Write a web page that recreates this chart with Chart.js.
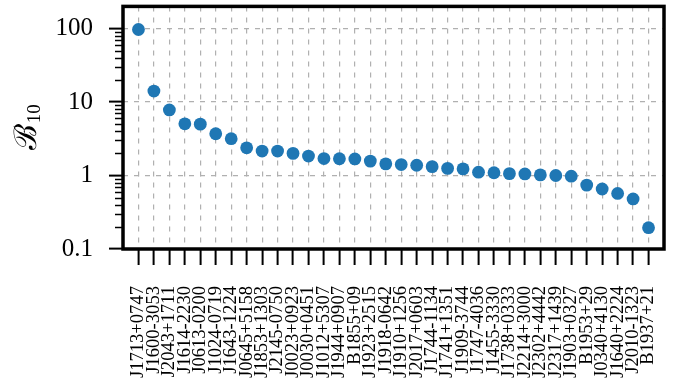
<!DOCTYPE html>
<html><head><meta charset="utf-8">
<script src="https://cdn.jsdelivr.net/npm/chart.js@4/dist/chart.umd.min.js"></script>
<style>html,body{margin:0;padding:0;background:#fff;}canvas{display:block;}</style>
</head><body>
<canvas id="c" width="685" height="383"></canvas>
<script>
const pulsars = ["J1713+0747","J1600-3053","J2043+1711","J1614-2230","J0613-0200","J1024-0719","J1643-1224","J0645+5158","J1853+1303","J2145-0750","J0023+0923","J0030+0451","J1012+5307","J1944+0907","B1855+09","J1923+2515","J1918-0642","J1910+1256","J2017+0603","J1744-1134","J1741+1351","J1909-3744","J1747-4036","J1455-3330","J1738+0333","J2214+3000","J2302+4442","J2317+1439","J1903+0327","B1953+29","J0340+4130","J1640+2224","J2010-1323","B1937+21"];
const bayesFactors = [97, 14.1, 7.8, 5.05, 5.0, 3.7, 3.17, 2.38, 2.15, 2.15, 2.0, 1.84, 1.7, 1.69, 1.68, 1.57, 1.44, 1.41, 1.38, 1.32, 1.25, 1.23, 1.11, 1.09, 1.06, 1.05, 1.02, 1.0, 0.98, 0.74, 0.655, 0.57, 0.48, 0.195];
const yMajorTicks = [0.1, 1, 10, 100];
const yMajorLabels = ["0.1", "1", "10", "100"];
const yMinorTicks = [0.2,0.3,0.4,0.5,0.6,0.7,0.8,0.9,2,3,4,5,6,7,8,9,20,30,40,50,60,70,80,90];
const yLabelMain = "\u212C";
const yLabelSub = "10";

const FONT = "'Liberation Serif', 'Times New Roman', serif";

const frame = {
  id: 'frame',
  afterDraw(chart) {
    const ctx = chart.ctx, a = chart.chartArea, ys = chart.scales.y;
    ctx.save();
    ctx.strokeStyle = '#000'; ctx.lineWidth = 1.5;
    yMinorTicks.forEach(v => {
      const p = Math.round(ys.getPixelForValue(v)) + 0.5;
      ctx.beginPath(); ctx.moveTo(a.left - 8, p); ctx.lineTo(a.left, p); ctx.stroke();
    });
    ctx.lineWidth = 3.5;
    ctx.strokeRect(a.left, a.top, a.right - a.left, a.bottom - a.top);
    ctx.translate(36, (a.top + a.bottom) / 2);
    ctx.rotate(-Math.PI / 2);
    ctx.fillStyle = '#000';
    ctx.textBaseline = 'alphabetic';
    ctx.font = "31px " + FONT;
    const w1 = ctx.measureText(yLabelMain).width;
    ctx.font = "19px " + FONT;
    const w2 = ctx.measureText(yLabelSub).width;
    const x0 = -(w1 + w2) / 2;
    ctx.font = "31px " + FONT;
    ctx.fillText(yLabelMain, x0, 0);
    ctx.font = "19px " + FONT;
    ctx.fillText(yLabelSub, x0 + w1 + 1, 4);
    ctx.restore();
  }
};

new Chart(document.getElementById('c'), {
  type: 'scatter',
  data: {
    datasets: [{
      data: pulsars.map((p, i) => ({x: i, y: bayesFactors[i]})),
      backgroundColor: '#1f77b4',
      borderWidth: 0,
      pointRadius: 6.4,
      pointHoverRadius: 6.4
    }]
  },
  options: {
    responsive: false,
    animation: false,
    devicePixelRatio: 1,
    layout: {padding: {left: 0, right: 21, top: 3, bottom: 0}},
    plugins: {legend: {display: false}, tooltip: {enabled: false}},
    scales: {
      x: {
        type: 'linear', min: -1, max: 34,
        afterBuildTicks: s => { s.ticks = pulsars.map((p, i) => ({value: i})); },
        afterFit: s => { s.height = 383 - 249; s.paddingLeft = 0; s.paddingRight = 0; },
        grid: {color: '#b0b0b0', lineWidth: 1.2, drawTicks: true, tickLength: 16, tickColor: '#000', tickWidth: 2},
        border: {display: false, dash: [5, 6]},
        ticks: {
          autoSkip: false, maxRotation: 90, minRotation: 90, padding: 21,
          color: '#000', font: {family: FONT, size: 18.6},
          callback: v => pulsars[v]
        }
      },
      y: {
        type: 'logarithmic', min: 0.1, max: 200,
        afterBuildTicks: s => { s.ticks = yMajorTicks.map(v => ({value: v, major: true})); },
        afterFit: s => { s.width = 123; s.paddingTop = 0; s.paddingBottom = 0; },
        grid: {color: '#b0b0b0', lineWidth: 1.2, drawTicks: true, tickLength: 14, tickColor: '#000', tickWidth: 2},
        border: {display: false, dash: [5, 6]},
        ticks: {
          padding: 16, color: '#000', font: {family: FONT, size: 25},
          callback: v => yMajorLabels[yMajorTicks.indexOf(v)]
        }
      }
    }
  },
  plugins: [frame]
});
</script>
</body></html>
